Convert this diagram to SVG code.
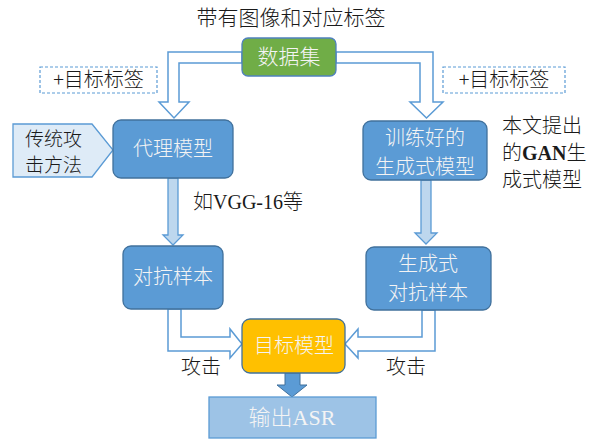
<svg xmlns="http://www.w3.org/2000/svg" width="594" height="441" viewBox="0 0 594 441">
<style>
.t{font-family:"Noto Sans CJK SC","Liberation Sans",sans-serif;font-size:20px;font-weight:300;fill:#1a1a1a}
.w{font-family:"Noto Sans CJK SC","Liberation Sans",sans-serif;font-size:20px;font-weight:300;fill:#f4f4f4;text-anchor:middle}
.s{font-family:"Liberation Serif","Noto Sans CJK SC",serif;font-weight:400}
.b{font-weight:700}
.box{fill:#5b9bd5;stroke:#41719c;stroke-width:1.3}
.hol{fill:#fff;stroke:#5b9bd5;stroke-width:1.5;stroke-linejoin:miter}
.sol{fill:#bdd7ee;stroke:#5b9bd5;stroke-width:1.3}
.dash{fill:none;stroke:#5b9bd5;stroke-width:1.2;stroke-dasharray:3 2}
</style>
<rect width="594" height="441" fill="#fff"/>
<text class="t" x="291" y="25" text-anchor="middle" style="font-size:21px">带有图像和对应标签</text>
<g id="connectors">
<polygon class="hol" points="242,52 168,52 168,102 159,102 174,118 189,102 179,102 179,63 242,63"/>
<polygon class="hol" points="336,52 433,52 433,102 443,102 426.5,118 410,102 420,102 420,63 336,63"/>
<polygon class="sol" points="168,178 178,178 178,235 183,235 173,245 163,235 168,235"/>
<polygon class="sol" points="421,180 431,180 431,233 437,233 426,244 415,233 421,233"/>
<polygon class="hol" points="168,309 168,351 230,351 230,358 242,344 230,329 230,337 181,337 181,309"/>
<polygon class="hol" points="435,310 435,351 358,351 358,358 345,344 358,329 358,337 422,337 422,310"/>
<polygon points="285,373 300,373 300,385 307,385 292,397 277,385 285,385" fill="#5b9bd5" stroke="#41719c" stroke-width="1"/>
</g>
<g id="dataset">
<rect x="242" y="38" width="94" height="38" rx="6" fill="#70ad47" stroke="#4f81bd" stroke-width="1.3"/>
<text class="w" x="289" y="64" style="font-size:21px">数据集</text>
</g>
<g id="label-left">
<rect class="dash" x="40" y="67" width="117" height="26"/>
<text class="t" x="98.5" y="87" text-anchor="middle">+目标标签</text>
</g>
<g id="label-right">
<rect class="dash" x="443" y="67" width="122" height="26"/>
<text class="t" x="504" y="87" text-anchor="middle">+目标标签</text>
</g>
<g id="traditional">
<polygon points="13,124 92,124 113,150 92,177 13,177" fill="#deebf7" stroke="#5b9bd5" stroke-width="1.3"/>
<text class="t" x="25" y="146" style="font-size:19px">传统攻</text>
<text class="t" x="25" y="172" style="font-size:19px">击方法</text>
</g>
<g id="surrogate">
<rect class="box" x="113" y="120" width="120" height="58" rx="8"/>
<text class="w" x="173" y="156">代理模型</text>
</g>
<g id="generator">
<rect class="box" x="363" y="121" width="124" height="59" rx="8"/>
<text class="w" x="425" y="145">训练好的</text>
<text class="w" x="425" y="174">生成式模型</text>
</g>
<g id="gan-note">
<text class="t" x="502" y="133">本文提出</text>
<text class="t" x="502" y="160">的<tspan class="s b">GAN</tspan>生</text>
<text class="t" x="502" y="187">成式模型</text>
</g>
<g id="vgg-note">
<text class="t" x="193" y="209">如<tspan class="s">VGG-16</tspan>等</text>
</g>
<g id="adv">
<rect class="box" x="123" y="246" width="100" height="63" rx="8"/>
<text class="w" x="173" y="284">对抗样本</text>
</g>
<g id="gen-adv">
<rect class="box" x="366" y="247" width="125" height="63" rx="8"/>
<text class="w" x="428" y="271">生成式</text>
<text class="w" x="428" y="300">对抗样本</text>
</g>
<g id="target">
<rect x="242" y="319" width="103" height="54" rx="8" fill="#ffc000" stroke="#41719c" stroke-width="1.3"/>
<text class="w" x="294" y="353">目标模型</text>
</g>
<g id="attack-labels">
<text class="t" x="201" y="374" text-anchor="middle">攻击</text>
<text class="t" x="406" y="374" text-anchor="middle">攻击</text>
</g>
<g id="asr">
<rect x="209" y="397" width="167" height="41" fill="#9dc3e6" stroke="#5b9bd5" stroke-width="1.3"/>
<text class="w" x="292" y="425" style="font-size:22px">输出<tspan class="s">ASR</tspan></text>
</g>
</svg>
